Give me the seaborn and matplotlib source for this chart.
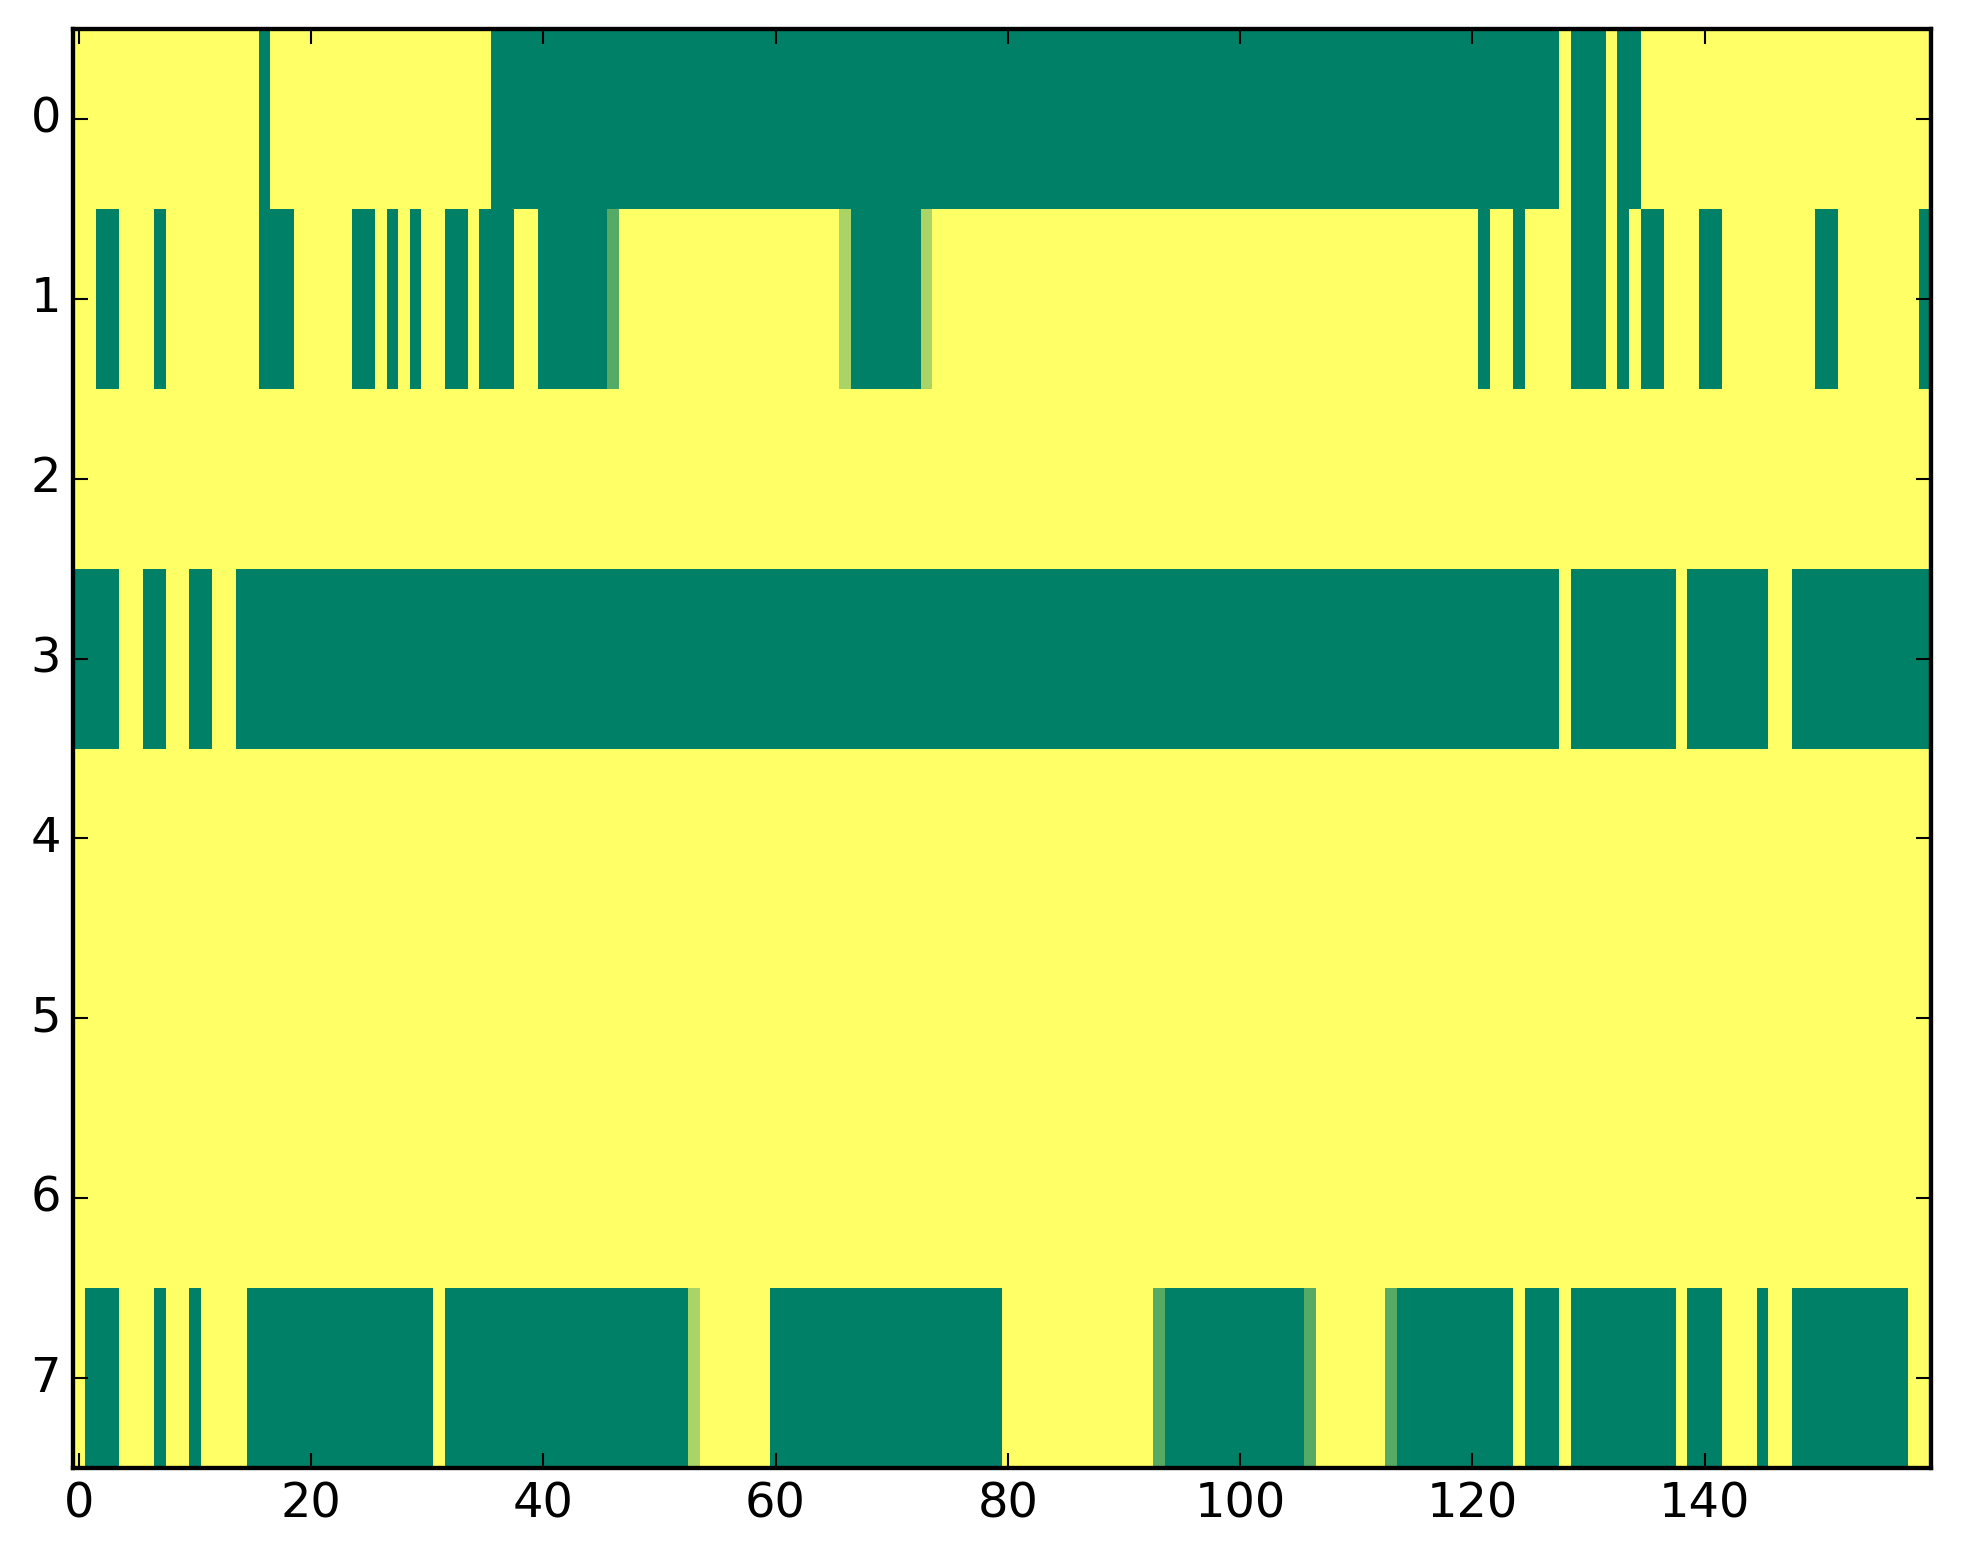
import numpy as np
import matplotlib
matplotlib.use("Agg")
import matplotlib.pyplot as plt
import seaborn as sns

# cell codes: 0 = green (low), 3 = yellow (high), 1 and 2 intermediate
Y, G, L1, L2 = 3, 0, 1, 2

# run-length rows: (value, count)
row0 = [(Y, 16), (G, 1), (Y, 19), (G, 92), (Y, 1), (G, 3), (Y, 1), (G, 2), (Y, 25)]
row1 = [(Y, 2), (G, 2), (Y, 3), (G, 1), (Y, 8), (G, 3), (Y, 5), (G, 2), (Y, 1), (G, 1),
        (Y, 1), (G, 1), (Y, 2), (G, 2), (Y, 1), (G, 3), (Y, 2), (G, 6), (L1, 1), (Y, 19),
        (L2, 1), (G, 6), (L2, 1), (Y, 47), (G, 1), (Y, 2), (G, 1), (Y, 4), (G, 3), (Y, 1),
        (G, 1), (Y, 1), (G, 2), (Y, 3), (G, 2), (Y, 8), (G, 2), (Y, 7), (G, 1)]
row2 = [(Y, 160)]
row3 = [(G, 4), (Y, 2), (G, 2), (Y, 2), (G, 2), (Y, 2), (G, 114), (Y, 1), (G, 9), (Y, 1),
        (G, 7), (Y, 2), (G, 12)]
row4 = [(Y, 160)]
row5 = [(Y, 160)]
row6 = [(Y, 160)]
row7 = [(Y, 1), (G, 3), (Y, 3), (G, 1), (Y, 2), (G, 1), (Y, 4), (G, 16), (Y, 1), (G, 21),
        (L2, 1), (Y, 6), (G, 20), (Y, 13), (L1, 1), (G, 12), (L1, 1), (Y, 6), (L1, 1), (G, 10),
        (Y, 1), (G, 3), (Y, 1), (G, 9), (Y, 1), (G, 3), (Y, 3), (G, 1), (Y, 2), (G, 10), (Y, 2)]

x_ticks = [0, 20, 40, 60, 80, 100, 120, 140]
y_ticks = [0, 1, 2, 3, 4, 5, 6, 7]


def expand(runs):
    return np.concatenate([np.full(n, v, dtype=float) for v, n in runs])


data = np.vstack([expand(r) for r in [row0, row1, row2, row3, row4, row5, row6, row7]])

plt.rcParams.update({
    "font.family": ["DejaVu Sans"],
    "font.size": 13.8,
    "xtick.direction": "in",
    "ytick.direction": "in",
    "xtick.top": True,
    "ytick.right": True,
})

W, H, DPI = 1963, 1564, 250
fig = plt.figure(figsize=(W / DPI, H / DPI), dpi=DPI)
fig.patch.set_facecolor("white")
ax = fig.add_axes([73 / W, 1 - 1468 / H, (1931 - 73) / W, (1468 - 29) / H])

sns.heatmap(data, cmap="summer", vmin=0, vmax=3, cbar=False, ax=ax)

ax.set_xticks(np.array(x_ticks) + 0.5)
ax.set_xticklabels([str(t) for t in x_ticks], rotation=0)
ax.set_yticks(np.array(y_ticks) + 0.5)
ax.set_yticklabels([str(t) for t in y_ticks], rotation=0, va="center")
ax.tick_params(axis="both", which="major", direction="in", length=4.2, width=0.6,
               pad=3.5, labelsize=13.8, colors="black", top=True, right=True,
               labeltop=False, labelright=False)
for s in ax.spines.values():
    s.set_visible(True)
    s.set_linewidth(1.25)
    s.set_color("black")

fig.savefig("out.png", dpi=DPI, facecolor="white")
